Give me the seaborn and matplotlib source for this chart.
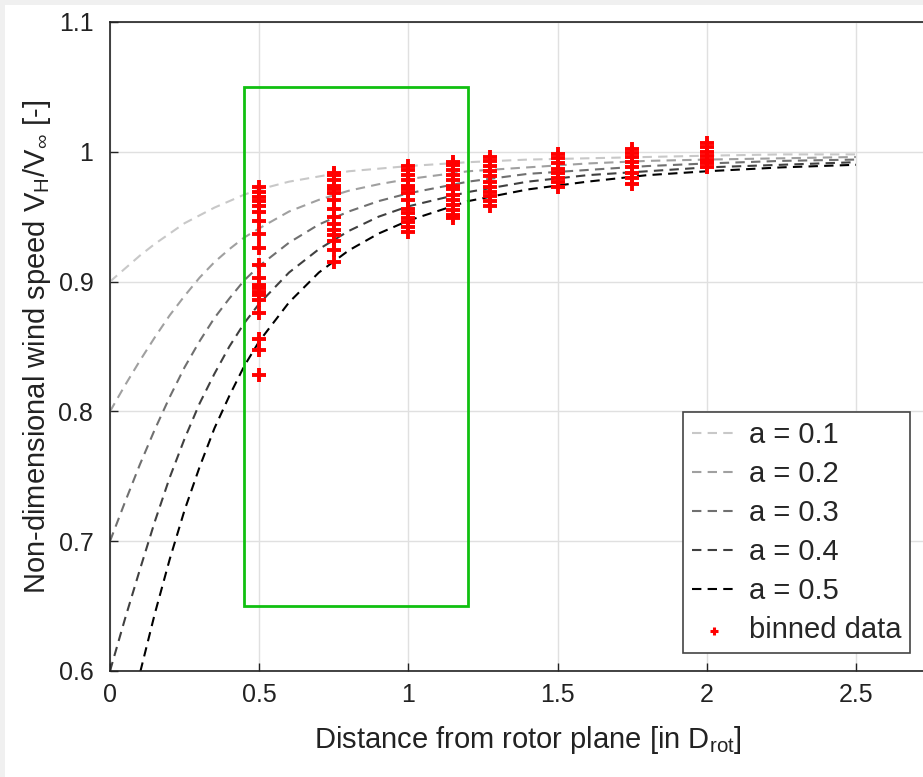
import numpy as np
import pandas as pd
import matplotlib
matplotlib.use('Agg')
import matplotlib.pyplot as plt
import seaborn as sns
from matplotlib.patches import Rectangle

# ============================
# DADOS
# ============================

# curvas do modelo
x_curva = [0, 0.05, 0.1, 0.15, 0.2, 0.25, 0.3, 0.35, 0.4, 0.45, 0.5, 0.6, 0.7,
           0.8, 0.9, 1.0, 1.2, 1.4, 1.6, 1.8, 2.0, 2.25, 2.5]

v_a01 = [0.900, 0.910, 0.920, 0.929, 0.937, 0.945, 0.951, 0.957, 0.962, 0.967, 0.971, 0.977,
         0.981, 0.985, 0.987, 0.989, 0.992, 0.994, 0.995, 0.996, 0.997, 0.998, 0.998]
v_a02 = [0.800, 0.820, 0.839, 0.857, 0.874, 0.889, 0.903, 0.915, 0.925, 0.934, 0.941, 0.954,
         0.963, 0.970, 0.975, 0.979, 0.985, 0.988, 0.991, 0.993, 0.994, 0.995, 0.996]
v_a03 = [0.700, 0.730, 0.759, 0.786, 0.811, 0.834, 0.854, 0.872, 0.887, 0.901, 0.912, 0.930,
         0.944, 0.954, 0.962, 0.968, 0.977, 0.983, 0.986, 0.989, 0.991, 0.993, 0.994]
v_a04 = [0.600, 0.640, 0.678, 0.715, 0.749, 0.779, 0.806, 0.829, 0.850, 0.868, 0.883, 0.907,
         0.925, 0.939, 0.950, 0.958, 0.969, 0.977, 0.982, 0.985, 0.988, 0.990, 0.992]
v_a05 = [0.500, 0.550, 0.598, 0.644, 0.686, 0.724, 0.757, 0.787, 0.812, 0.835, 0.854, 0.884,
         0.907, 0.924, 0.937, 0.947, 0.962, 0.971, 0.977, 0.982, 0.985, 0.988, 0.990]

curvas = [v_a01, v_a02, v_a03, v_a04, v_a05]
rotulos = ['a = 0.1', 'a = 0.2', 'a = 0.3', 'a = 0.4', 'a = 0.5']
cores = ['#c8c8c8', '#a0a0a0', '#707070', '#404040', '#000000']

# dados agrupados (binned data)
bin_050 = [0.973, 0.969, 0.965, 0.962, 0.958, 0.954, 0.947, 0.937, 0.926, 0.913, 0.903,
           0.897, 0.895, 0.892, 0.890, 0.886, 0.876, 0.856, 0.847, 0.828]
bin_075 = [0.984, 0.982, 0.978, 0.974, 0.971, 0.968, 0.963, 0.956, 0.950, 0.944, 0.940,
           0.936, 0.931, 0.924, 0.915]
bin_100 = [0.989, 0.986, 0.982, 0.978, 0.974, 0.971, 0.968, 0.963, 0.956, 0.953, 0.949,
           0.946, 0.942, 0.938]
bin_115 = [0.992, 0.990, 0.986, 0.982, 0.978, 0.974, 0.971, 0.967, 0.963, 0.959, 0.955,
           0.951, 0.949]
bin_1275 = [0.996, 0.993, 0.989, 0.985, 0.981, 0.977, 0.973, 0.969, 0.966, 0.962, 0.958]
bin_150 = [0.998, 0.995, 0.991, 0.987, 0.984, 0.980, 0.977, 0.973]
bin_175 = [1.002, 0.999, 0.996, 0.992, 0.988, 0.984, 0.980, 0.975]
bin_200 = [1.007, 1.004, 1.000, 0.997, 0.994, 0.991, 0.988]

x_bins = [0.5, 0.75, 1.0, 1.15, 1.275, 1.5, 1.75, 2.0]
bins = [bin_050, bin_075, bin_100, bin_115, bin_1275, bin_150, bin_175, bin_200]

df_bins = pd.DataFrame({
    'x': [xb for xb, vals in zip(x_bins, bins) for _ in vals],
    'v': [v for vals in bins for v in vals]
})

# ============================
# ESTILO
# ============================

sns.set_theme(style='whitegrid')
plt.rcParams['font.family'] = ['Liberation Sans', 'DejaVu Sans']
plt.rcParams['mathtext.default'] = 'regular'

fig = plt.figure(figsize=(9.23, 7.77), dpi=100)
fig.patch.set_facecolor('white')

# borda cinza clara no topo e à esquerda
fig.patches.append(Rectangle((0, 1 - 5 / 777), 1, 5 / 777, transform=fig.transFigure,
                             facecolor='#f0f0f0', edgecolor='none', zorder=0))
fig.patches.append(Rectangle((0, 0), 5 / 923, 1, transform=fig.transFigure,
                             facecolor='#f0f0f0', edgecolor='none', zorder=0))

ax = fig.add_axes([110 / 923, 106 / 777, 835.5 / 923, 649 / 777])
ax.set_facecolor('white')

# ============================
# CURVAS
# ============================

for v, rot, cor in zip(curvas, rotulos, cores):
    sns.lineplot(x=x_curva, y=v, ax=ax, color=cor, label=rot,
                 linestyle=(0, (4.5, 3)), linewidth=1.5)

# ============================
# DADOS
# ============================

sns.scatterplot(data=df_bins, x='x', y='v', ax=ax, marker='+', color='red',
                s=90, linewidth=2.8, label='binned data', zorder=5)

# retângulo verde
ax.add_patch(Rectangle((0.45, 0.65), 0.75, 0.40, fill=False,
                       edgecolor='#10c010', linewidth=2, zorder=4))

# ============================
# EIXOS
# ============================

ax.set_xlim(0, 2.8)
ax.set_ylim(0.6, 1.1)
ax.set_xticks([0, 0.5, 1, 1.5, 2, 2.5])
ax.set_xticklabels(['0', '0.5', '1', '1.5', '2', '2.5'])
ax.set_yticks([0.6, 0.7, 0.8, 0.9, 1.0, 1.1])
ax.set_yticklabels(['0.6', '0.7', '0.8', '0.9', '1', '1.1'])

ax.grid(True, color='#e0e0e0', linewidth=1)
ax.tick_params(axis='both', labelsize=18, colors='#222222', direction='in',
               length=6, width=1, bottom=True, left=True)
ax.tick_params(axis='x', pad=9)
ax.tick_params(axis='y', pad=12)
for lado in ['left', 'bottom', 'top']:
    ax.spines[lado].set_color('#222222')
    ax.spines[lado].set_linewidth(1.2)
ax.spines['right'].set_visible(False)

ax.set_xlabel('Distance from rotor plane [in D$_{rot}$]', fontsize=21, color='#222222',
              labelpad=12)
ax.set_ylabel('Non-dimensional wind speed V$_H$/V$_\\infty$ [-]', fontsize=21,
              color='#222222', labelpad=4)

# ============================
# LEGENDA
# ============================

leg = ax.legend(loc='upper left', bbox_to_anchor=(683 / 923, 1 - 412 / 777),
                bbox_transform=fig.transFigure, fontsize=21, frameon=True,
                fancybox=False, framealpha=1, edgecolor='#444444',
                handlelength=1.5, handletextpad=0.45, labelspacing=0.38,
                borderpad=0.3, borderaxespad=0)
leg.get_frame().set_linewidth(1.2)
leg.legend_handles[-1].set_sizes([35])
leg.legend_handles[-1].set_linewidths([2.2])

fig.savefig('out.png', dpi=100)
